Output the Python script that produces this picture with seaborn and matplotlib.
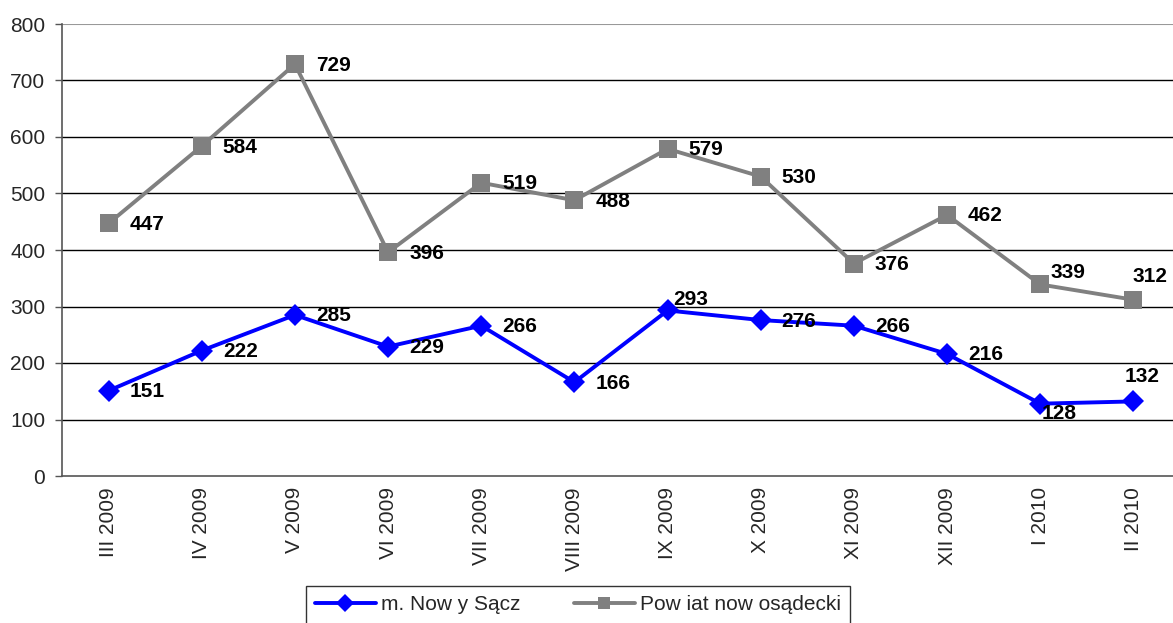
import numpy as np
import pandas as pd
import matplotlib
matplotlib.use("Agg")
import matplotlib.pyplot as plt
import seaborn as sns

months = ['III 2009', 'IV 2009', 'V 2009', 'VI 2009', 'VII 2009', 'VIII 2009',
          'IX 2009', 'X 2009', 'XI 2009', 'XII 2009', 'I 2010', 'II 2010']
miasto = [151, 222, 285, 229, 266, 166, 293, 276, 266, 216, 128, 132]
powiat = [447, 584, 729, 396, 519, 488, 579, 530, 376, 462, 339, 312]
series_names = ['m. Now y Sącz', 'Pow iat now osądecki']

sns.set_theme(style="white")
plt.rcParams['font.family'] = ['Liberation Sans', 'DejaVu Sans']

df = pd.DataFrame({
    'x': list(range(len(months))) * 2,
    'wartosc': miasto + powiat,
    'seria': [series_names[0]] * len(months) + [series_names[1]] * len(months),
})

fig = plt.figure(figsize=(11.73, 6.23), dpi=100)
ax = fig.add_axes([62 / 1173, 1 - 476 / 623, (1180 - 62) / 1173, 452 / 623])

palette = {series_names[0]: '#0000FF', series_names[1]: '#808080'}
sns.lineplot(data=df, x='x', y='wartosc', hue='seria', style='seria',
             palette=palette, markers={series_names[0]: 'D', series_names[1]: 's'},
             dashes=False, ax=ax, legend=False, markersize=11.5, markeredgewidth=0)
for line, name in zip(ax.lines, series_names):
    line.set_linewidth(2.8)
    if name == series_names[1]:
        line.set_markersize(13)
    line.set_zorder(3)

ax.set_xlim(-0.5, 11.5)
ax.set_ylim(0, 800)
ax.set_yticks(np.arange(0, 801, 100))
ax.set_xticks(range(len(months)))
ax.set_xticklabels(months, rotation=90, fontsize=15)
ax.set_xticks(np.arange(-0.5, 12, 1), minor=True)
ax.tick_params(axis='x', which='major', length=0, pad=8)
ax.tick_params(axis='x', which='minor', length=6, width=1, color='#555555', direction='out')
ax.tick_params(axis='y', length=5, width=1, color='#555555', direction='out', labelsize=15, pad=7, left=True)
ax.set_xlabel('')
ax.set_ylabel('')

for y in range(100, 800, 100):
    ax.axhline(y, color='black', lw=1, zorder=1)
ax.axhline(800, color='#999999', lw=1.5, zorder=1)

for s in ['top', 'right']:
    ax.spines[s].set_visible(False)
ax.spines['left'].set_color('#555555')
ax.spines['bottom'].set_color('#555555')
ax.spines['left'].set_linewidth(1.2)
ax.spines['bottom'].set_linewidth(1.2)

# label offsets in pixels (special placements), default: right of marker
off_powiat = {10: (10, 12), 11: (-1, 23)}
off_miasto = {6: (6, 11), 10: (1, -10), 11: (-9, 25)}
for vals, offs in [(powiat, off_powiat), (miasto, off_miasto)]:
    for i, v in enumerate(vals):
        dx, dy = offs.get(i, (21, -1))
        ax.annotate(str(v), (i, v), xytext=(dx * 0.72, dy * 0.72), textcoords='offset points',
                    ha='left', va='center', fontsize=15, fontweight='bold', color='black', zorder=4)

handles = ax.lines[:2]
leg = fig.legend(handles, series_names, loc='upper center', bbox_to_anchor=(578 / 1173, 1 - 586 / 623),
                 ncol=2, frameon=True, fancybox=False, edgecolor='black', fontsize=15,
                 handlelength=2.9, columnspacing=2.6, borderpad=0.45, handletextpad=0.25,
                 borderaxespad=0)
leg.get_frame().set_linewidth(1)
for h in leg.legend_handles:
    h.set_markersize(9)

fig.savefig('out.png', dpi=100)
